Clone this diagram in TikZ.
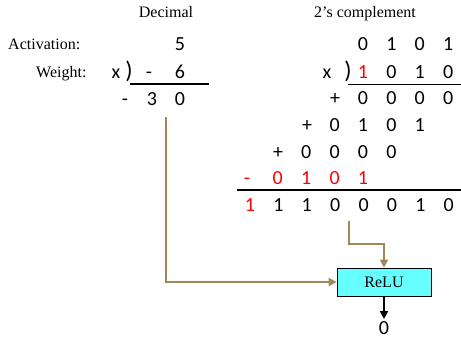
\documentclass[tikz,border=0pt]{standalone}
\usepackage{fontspec}
\setmainfont{Liberation Serif}
\newfontfamily\digitfont{Carlito}
\usepackage{tikz}
\usetikzlibrary{arrows.meta, positioning}
\definecolor{linkbrown}{RGB}{160,135,90}
\definecolor{relucyan}{RGB}{102,255,255}

\begin{document}
\begin{tikzpicture}[x=1pt, y=-1pt, >=Triangle,
		label/.style={font=\fontsize{16}{18}\selectfont, inner sep=0pt, anchor=base},
		dig/.style={font=\digitfont\fontsize{20}{22}\selectfont, inner sep=0pt, anchor=base},
		neg/.style={dig, text=red},
		rule/.style={line width=1.8pt},
		link/.style={linkbrown, line width=2.6pt, -{Triangle[length=8pt, width=8pt]}},
		relu/.style={rectangle, draw=black, fill=relucyan, line width=0.8pt, minimum width=94pt, minimum height=28pt, font=\fontsize{16}{18}\selectfont}]
		
		\useasboundingbox (0,0) rectangle (461,341);
		
		% Titles
		\node[label] (t_dec) at (166, 17) {Decimal};
		\node[label] (t_two) at (365, 17) {2’s complement};
		\node[label, anchor=base west] (t_act) at (8, 49) {Activation:};
		\node[label, anchor=base west] (t_wgt) at (36, 77) {Weight:};
		
		% Decimal product
		\node[dig] (d_act) at (180, 50) {5};
		\node[dig] (d_x) at (116, 78) {x};
		\node[dig, font=\digitfont\fontsize{24}{26}\selectfont] (d_par) at (129, 78) {)};
		\node[dig] (d_wsg) at (149, 78) {-};
		\node[dig] (d_w) at (180, 78) {6};
		\node[dig] (d_rsg) at (125, 105) {-};
		\node[dig] (d_r3) at (152, 105) {3};
		\node[dig] (d_r0) at (180, 105) {0};
		\draw[rule] (130, 84) -- (209, 84);
		
		% 2's complement product
		\foreach \v [count=\i] in {0,1,0,1}
			\node[dig] (a\i) at (334.6+28.4*\i, 50) {\v};
		\node[dig] (b_x) at (327, 78) {x};
		\node[dig, font=\digitfont\fontsize{24}{26}\selectfont] (b_par) at (348, 78) {)};
		\node[neg] (b1) at (363, 78) {1};
		\foreach \v [count=\i from 2] in {0,1,0}
			\node[dig] (b\i) at (334.6+28.4*\i, 78) {\v};
		\draw[rule] (348, 84.5) -- (461, 84.5);
		
		% Partial products
		\node[dig] (p1_sg) at (335, 104) {+};
		\foreach \v [count=\i] in {0,0,0,0}
			\node[dig] (p1\i) at (334.6+28.4*\i, 104) {\v};
		\node[dig] (p2_sg) at (307, 131) {+};
		\foreach \v [count=\i] in {0,1,0,1}
			\node[dig] (p2\i) at (306.2+28.4*\i, 131) {\v};
		\node[dig] (p3_sg) at (278, 158) {+};
		\foreach \v [count=\i] in {0,0,0,0}
			\node[dig] (p3\i) at (277.8+28.4*\i, 158) {\v};
		\node[neg] (p4_sg) at (247, 184) {-};
		\foreach \v [count=\i] in {0,1,0,1}
			\node[neg] (p4\i) at (249.4+28.4*\i, 184) {\v};
		\draw[rule] (237, 190) -- (461, 190);
		
		% Result
		\node[neg] (r1) at (250, 211) {1};
		\foreach \v [count=\i from 2] in {1,1,0,0,0,1,0}
			\node[dig] (r\i) at (221.6+28.4*\i, 211) {\v};
		
		% ReLU
		\node[relu] (relu) at (384, 282) {ReLU};
		\node[dig] (out) at (384, 334) {0};
		\coordinate (dec_tap) at (166, 117);
		\coordinate (bin_tap) at (349, 221);
		
		% Links
		\draw[link] (dec_tap) |- (relu.west);
		\draw[link] (bin_tap) -- (349, 244) -| (relu.north);
		\draw[line width=2.4pt, -{Triangle[length=8pt, width=8pt]}] (relu.south) -- (384, 319);
		
	\end{tikzpicture}
\end{document}
